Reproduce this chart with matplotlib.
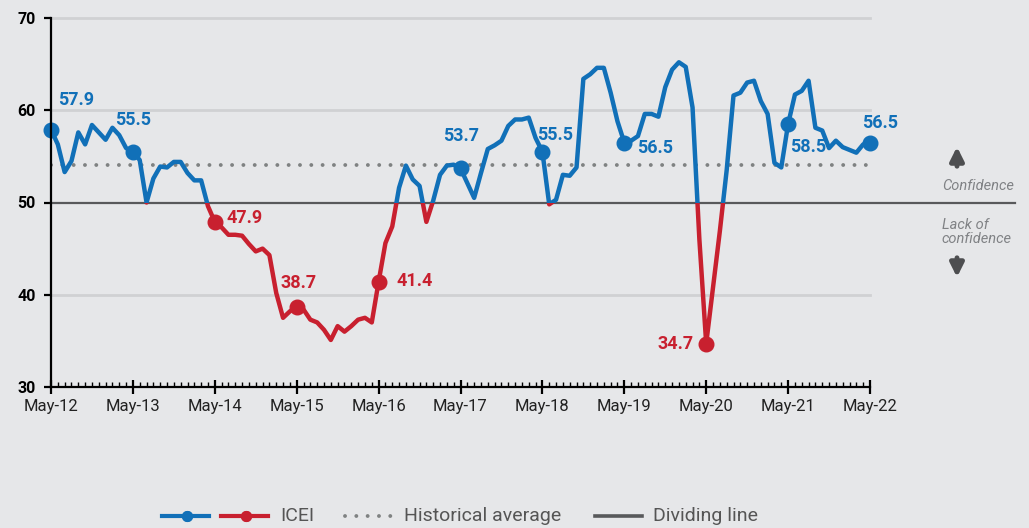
import matplotlib
matplotlib.use("Agg")
import matplotlib.pyplot as plt
from matplotlib.patches import Rectangle
from matplotlib.lines import Line2D
import numpy as np

plt.rcParams['font.family'] = ['Roboto', 'DejaVu Sans']

# monthly ICEI, May-2012 .. May-2022
icei = [57.9, 56.3, 53.3, 54.5, 57.6, 56.3, 58.4, 57.6, 56.8, 58.1, 57.3, 55.9,
        55.5, 54.6, 50.0, 52.6, 53.9, 53.8, 54.4, 54.4, 53.2, 52.4, 52.4, 49.6,
        47.9, 47.3, 46.5, 46.5, 46.4, 45.5, 44.7, 45.0, 44.3, 40.2, 37.5, 38.2,
        38.7, 38.4, 37.3, 37.0, 36.2, 35.1, 36.6, 36.0, 36.6, 37.3, 37.5, 37.0,
        41.4, 45.6, 47.4, 51.6, 54.0, 52.5, 51.8, 47.9, 50.2, 53.0, 54.0, 54.1,
        53.7, 52.1, 50.5, 53.2, 55.8, 56.2, 56.7, 58.3, 59.0, 59.0, 59.2, 57.0,
        55.5, 49.8, 50.3, 53.0, 52.9, 53.8, 63.4, 63.9, 64.6, 64.6, 61.9, 58.8,
        56.5, 56.7, 57.2, 59.6, 59.6, 59.3, 62.5, 64.4, 65.2, 64.7, 60.3, 46.0,
        34.7, 40.8, 46.9, 53.5, 61.6, 61.9, 63.0, 63.2, 61.0, 59.6, 54.3, 53.8,
        58.5, 61.7, 62.1, 63.2, 58.1, 57.8, 55.9, 56.7, 56.0, 55.7, 55.4, 56.3,
        56.5]
months = np.arange(len(icei))
year_labels = ["May-12", "May-13", "May-14", "May-15", "May-16", "May-17",
               "May-18", "May-19", "May-20", "May-21", "May-22"]
hist_avg = 54.1
divide = 50

# labelled points (every May) and label offsets in pixels
label_idx = [0, 12, 24, 36, 48, 60, 72, 84, 96, 108, 120]
label_off = [(7, 30, 'left'), (0, 32, 'center'), (12, 4, 'left'), (2, 24, 'center'),
             (18, 1, 'left'), (1, 32, 'center'), (13, 17, 'center'), (13, -5, 'left'),
             (-13, 0, 'right'), (2, -23, 'left'), (10, 20, 'center')]

BLUE = '#1170b8'
RED = '#c8202f'
BG = '#e6e7e9'

fig = plt.figure(figsize=(10.29, 5.28), dpi=100, facecolor=BG)
ax = fig.add_axes([51 / 1029, 1 - 387 / 528, (870 - 51) / 1029, (387 - 18) / 528])
ax.set_facecolor(BG)

ax.set_xlim(0, 120)
ax.set_ylim(30, 70)

# grid lines
for g in [40, 60, 70]:
    ax.axhline(g, color='#d0d1d3', lw=2, zorder=1, clip_on=False)
ax.axhline(hist_avg, color='#7f8282', lw=2.8, linestyle=(0, (0.01, 2.9)),
           dash_capstyle='round', zorder=2)
ax.axhline(divide, xmin=0, xmax=(1015 - 51) / (870 - 51), color='#58595b', lw=1.6,
           zorder=2, clip_on=False)

# line split in blue above / red below 50
blue_line, = ax.plot(months, icei, color=BLUE, lw=3.2, solid_joinstyle='round',
                     solid_capstyle='round', zorder=3)
red_line, = ax.plot(months, icei, color=RED, lw=3.2, solid_joinstyle='round',
                    solid_capstyle='round', zorder=3)
blue_line.set_clip_path(Rectangle((-10, divide), 200, 100, transform=ax.transData))
red_line.set_clip_path(Rectangle((-10, divide - 100), 200, 100, transform=ax.transData))

for i, (dx, dy, ha) in zip(label_idx, label_off):
    c = BLUE if icei[i] >= divide else RED
    ax.plot(months[i], icei[i], 'o', color=c, ms=10.5, zorder=4, clip_on=False)
    ax.annotate(f"{icei[i]:.1f}", (months[i], icei[i]), xytext=(dx * 0.72, dy * 0.72),
                textcoords='offset points', ha=ha, va='center', color=c,
                fontsize=13, fontweight='bold')

# axes styling
for s in ['top', 'right']:
    ax.spines[s].set_visible(False)
ax.spines['left'].set_linewidth(1.6)
ax.spines['bottom'].set_linewidth(1.6)
ax.spines['left'].set_zorder(5)
ax.set_yticks([30, 40, 50, 60, 70])
ax.tick_params(axis='y', length=5, width=1.6, labelsize=11.5, pad=6)
for t in ax.get_yticklabels():
    t.set_fontweight('bold')
ax.set_xticks(np.arange(0, 121, 12))
ax.set_xticklabels(year_labels)
ax.set_xticks(months, minor=True)
ax.tick_params(axis='x', which='major', direction='inout', length=10, width=1.6,
               labelsize=12, pad=4, labelcolor='#222222')
ax.tick_params(axis='x', which='minor', direction='in', length=3.5, width=1)

# confidence notes on the right
note_c = '#808285'
fig.text(942 / 1029, 1 - 186 / 528, "Confidence", style='italic', color=note_c,
         fontsize=10.5, ha='left', va='center')
fig.text(942 / 1029, 1 - 232 / 528, "Lack of\nconfidence", style='italic', color=note_c,
         fontsize=10.5, ha='left', va='center', linespacing=0.95)
fig.add_artist(plt.Annotation("", xy=(957, 528 - 144), xytext=(957, 528 - 169),
               xycoords='figure pixels', textcoords='figure pixels',
               arrowprops=dict(arrowstyle='-|>', lw=3.5, color='#4d4e50', mutation_scale=20)))
fig.add_artist(plt.Annotation("", xy=(957, 528 - 280), xytext=(957, 528 - 255),
               xycoords='figure pixels', textcoords='figure pixels',
               arrowprops=dict(arrowstyle='-|>', lw=3.5, color='#4d4e50', mutation_scale=20)))

# legend drawn manually at the bottom
ly = 528 - 516
def fig_line(x0, x1, **kw):
    fig.add_artist(Line2D([x0 / 1029, x1 / 1029], [ly / 528, ly / 528], **kw))

fig_line(162, 209, color=BLUE, lw=3)
fig_line(187, 187, color=BLUE, marker='o', ms=7)
fig_line(221, 268, color=RED, lw=3)
fig_line(246, 246, color=RED, marker='o', ms=7)
fig.text(280 / 1029, ly / 528, "ICEI", color='#555555', fontsize=14, va='center')
fig_line(345, 393, color='#7f8282', lw=2.8, linestyle=(0, (0.01, 2.9)), dash_capstyle='round')
fig.text(404 / 1029, ly / 528, "Historical average", color='#555555', fontsize=14, va='center')
fig_line(595, 642, color='#58595b', lw=2.6)
fig.text(653 / 1029, ly / 528, "Dividing line", color='#555555', fontsize=14, va='center')

fig.savefig("out.png", dpi=100, facecolor=BG)
